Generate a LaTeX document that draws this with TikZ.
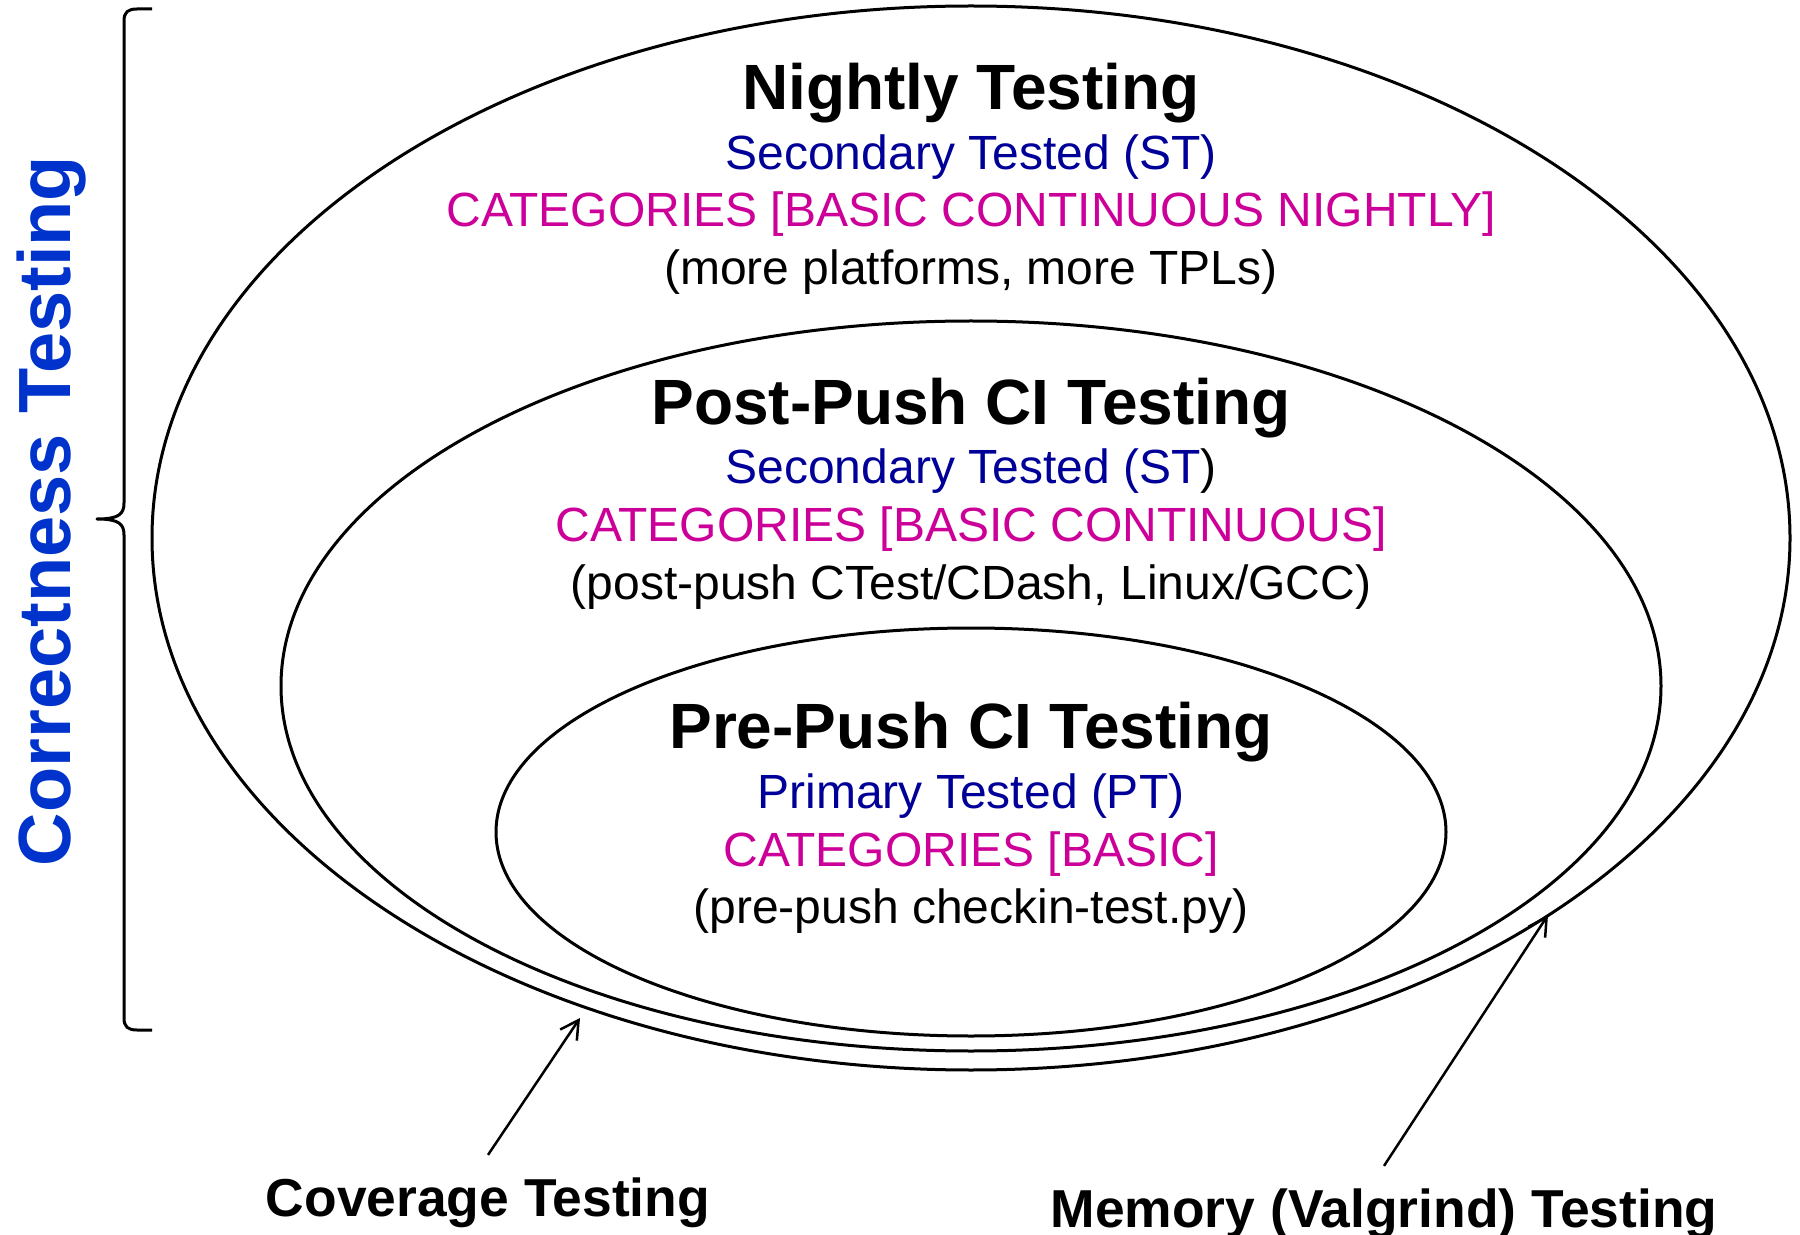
\documentclass[tikz,border=0pt]{standalone}
\usepackage{fontspec}
\setmainfont{Liberation Sans}
\usetikzlibrary{shapes.geometric,arrows.meta}
\definecolor{stblue}{RGB}{0,0,153}
\definecolor{catmag}{RGB}{204,0,153}
\definecolor{corrblue}{RGB}{0,51,204}
\begin{document}
\begin{tikzpicture}[x=0.5pt,y=-0.5pt,
  ring/.style={draw=black,line width=1.5pt,ellipse,inner sep=0pt,outer sep=0pt},
  ttl/.style={font=\fontsize{32}{36}\bfseries\selectfont,anchor=base,inner sep=0pt},
  bodytxt/.style={font=\fontsize{24}{28}\selectfont,anchor=base,inner sep=0pt},
  lbl/.style={font=\fontsize{26.7}{30}\bfseries\selectfont,anchor=base,inner xsep=0pt,inner ysep=11pt},
  conn/.style={line width=1.25pt,-{Straight Barb[length=9pt,width=10pt]}},
  bracestyle/.style={line width=1.5pt,line join=round}
]
\useasboundingbox (0,0) rectangle (1800,1235);

% ellipses
\node[ring,minimum width=819pt,minimum height=532pt] (nightly) at (971,538) {};
\node[ring,minimum width=690pt,minimum height=365pt] (postpush) at (971,686) {};
\node[ring,minimum width=475pt,minimum height=204pt] (prepush) at (971,832) {};

% Nightly block
\node[ttl] (ntitle) at (971,110) {Nightly Testing};
\node[bodytxt,text=stblue] (nst) at (971,170) {Secondary Tested (ST)};
\node[bodytxt,text=catmag] (ncat) at (971,227) {CATEGORIES [BASIC CONTINUOUS NIGHTLY]};
\node[bodytxt] (nnote) at (971,285) {(more platforms, more TPLs)};

% Post-push block
\node[ttl] (ptitle) at (971,425) {Post-Push CI Testing};
\node[bodytxt] (pst) at (971,484) {\textcolor{stblue}{Secondary Tested (ST}{)}};
\node[bodytxt,text=catmag] (pcat) at (971,542) {CATEGORIES [BASIC CONTINUOUS]};
\node[bodytxt] (pnote) at (971,599) {(post-push CTest/CDash, Linux/GCC)};

% Pre-push block
\node[ttl] (rtitle) at (971,748) {Pre-Push CI Testing};
\node[bodytxt,text=stblue] (rpt) at (971,808) {Primary Tested (PT)};
\node[bodytxt,text=catmag] (rcat) at (971,866) {CATEGORIES [BASIC]};
\node[bodytxt] (rnote) at (971,923) {(pre-push checkin-test.py)};

% Correctness label and brace
\node[rotate=90,anchor=base,inner sep=0pt,text=corrblue,
      font=\fontsize{37}{41}\bfseries\selectfont] (corr) at (70,511) {Correctness Testing};
\draw[bracestyle] (152,9) -- (137,9) .. controls (128,9) and (124,12) .. (124,21)
  -- (124,503) .. controls (124,514) and (119,519) .. (97,519)
  .. controls (119,519) and (124,524) .. (124,535)
  -- (124,1018) .. controls (124,1027) and (128,1030) .. (137,1030) -- (152,1030);

% bottom labels and arrows
\node[lbl] (cov) at (488,1216) {Coverage Testing};
\node[lbl] (mem) at (1384,1227) {Memory (Valgrind) Testing};
\coordinate (covtip) at (580,1018);
\coordinate (memtip) at (1548,915);
\draw[conn] (cov.north) -- (covtip);
\draw[conn] (mem.north) -- (memtip);
\end{tikzpicture}
\end{document}
